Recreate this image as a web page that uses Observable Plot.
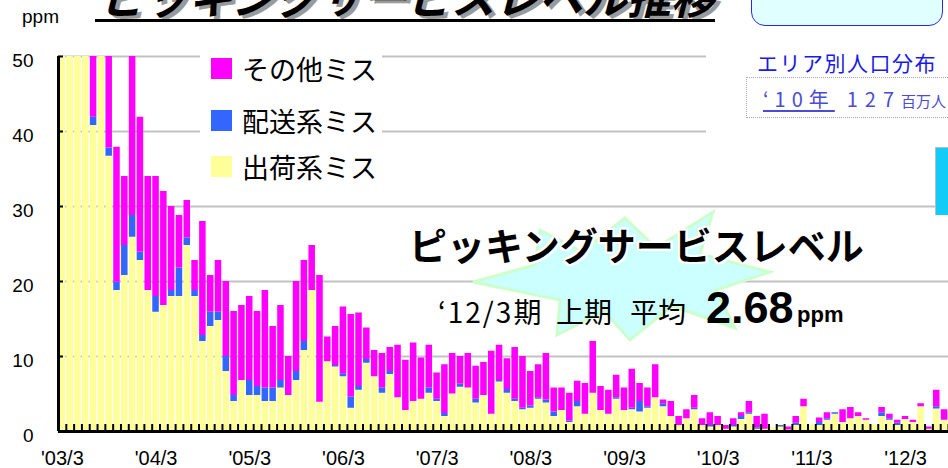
<!DOCTYPE html>
<html><head><meta charset="utf-8">
<script src="https://cdn.jsdelivr.net/npm/d3@7"></script>
<script src="https://cdn.jsdelivr.net/npm/@observablehq/plot@0.6"></script>
<style>
body{margin:0;background:#fff;}
#wrap{position:relative;width:948px;height:468px;overflow:hidden;font-family:"Liberation Sans",Arial,sans-serif;}
#chart{position:absolute;left:0;top:0;}
.abs{position:absolute;white-space:nowrap;}
.jp{font-family:"Noto Sans CJK JP","Noto Sans",sans-serif;}
</style></head><body>
<div id="wrap">
  <div id="chart"></div>

  <!-- title (cut off at top) -->
  <div class="abs jp" style="left:100px;top:-27px;font-size:44px;line-height:44px;font-weight:700;font-style:italic;color:#000;text-shadow:4px 3px 0 #9a9a9a;">ピッキングサービスレベル推移</div>
  <div class="abs" style="left:95px;top:19px;width:620px;height:3px;background:#000;"></div>

  <div class="abs" style="left:22px;top:7px;font-size:19px;line-height:19px;color:#000;">ppm</div>

  <!-- legend -->
  <div class="abs" style="left:200px;top:44px;width:182px;height:150px;background:#fff;"></div>
  <div class="abs" id="legend" style="left:211px;top:50px;"></div>

  <!-- right panel -->
  <div class="abs" style="left:706px;top:30px;width:242px;height:112px;background:#fff;"></div>
  <div class="abs" style="left:751px;top:-20px;width:190px;height:44px;background:#e0ffff;border:1.5px solid #2a2aee;border-radius:14px;"></div>
  <div class="abs jp" style="left:757px;top:52px;font-size:21px;line-height:21px;letter-spacing:1.5px;color:#1a1ae6;">エリア別人口分布</div>
  <div class="abs" style="left:746px;top:77px;width:220px;height:39px;border:1.5px dotted #aaaaaa;"></div>
  <div class="abs jp" style="left:763px;top:89px;font-size:20px;line-height:20px;color:#4b4bd6;"><span style="letter-spacing:6px;text-decoration:underline;text-underline-offset:3px;">‘10年</span><span style="letter-spacing:7px;margin-left:12px;">127</span><span style="font-size:15px;">百万人</span></div>
  <div class="abs" style="left:935px;top:147px;width:20px;height:67px;background:#11ccf6;border-left:1.5px solid #bcbcbc;border-top:1.5px solid #bcbcbc;"></div>

  <!-- starburst annotation -->
  <svg class="abs" style="left:0;top:0;" width="948" height="468">
    <polygon points="473,282 535,265 540,230 582,252 625,218 656,248 713,212 700,254 770,272 716,290 735,328 672,306 630,340 604,311 557,335 560,300"
      fill="#ccffff" stroke="#ccffcc" stroke-width="3" stroke-linejoin="miter"/>
  </svg>
  <div class="abs jp" style="left:409px;top:225px;font-size:38px;line-height:38px;font-weight:700;color:#000;text-shadow:2px 0 0 #fff,-2px 0 0 #fff,0 2px 0 #fff,0 -2px 0 #fff,2px 2px 0 #fff,-2px -2px 0 #fff,2px -2px 0 #fff,-2px 2px 0 #fff;">ピッキングサービスレベル</div>
  <div class="abs jp" style="left:438px;top:297px;font-size:28px;line-height:28px;letter-spacing:2px;color:#000;">‘12/3期</div>
  <div class="abs jp" style="left:556px;top:297px;font-size:28px;line-height:28px;color:#000;">上期</div>
  <div class="abs jp" style="left:630px;top:297px;font-size:28px;line-height:28px;color:#000;">平均</div>
  <div class="abs" style="left:706px;top:285px;font-size:45px;line-height:45px;font-weight:700;color:#000;">2.68</div>
  <div class="abs" style="left:797px;top:304px;font-size:22px;line-height:22px;font-weight:700;color:#000;">ppm</div>
</div>
<script>
// Monthly categories: 2003/3 .. 2012/8
const startYear = 2003, startMonth = 3, nMonths = 114;
const months = [];
for (let k = 0; k < nMonths; k++) {
  const m0 = startMonth - 1 + k;
  months.push(`${startYear + Math.floor(m0 / 12)}/${(m0 % 12) + 1}`);
}
// March tick labels
const tickLabels = ["'03/3","'04/3","'05/3","'06/3","'07/3","'08/3","'09/3","'10/3","'11/3","'12/3"];
const tickMonths = ["2003/3","2004/3","2005/3","2006/3","2007/3","2008/3","2009/3","2010/3","2011/3","2012/3"];

const seriesNames = ["出荷系ミス","配送系ミス","その他ミス"];
const seriesColors = ["#ffff99","#3366ff","#ff00ff"];

// 出荷系ミス (ppm)
const shukka = [55,55,55,55,40.8,55,36.7,18.8,20.8,25.9,
  22.8,18.8,15.9,16.8,18.0,18.0,24.8,18.0,12.0,14.0,
  14.8,8.0,4.0,6.8,4.8,4.8,4.0,4.0,5.8,4.8,
  6.8,10.8,18.8,3.9,9.3,8.6,7.3,3.1,5.5,9.1,
  7.3,5.1,7.6,4.5,2.8,4.0,4.3,5.1,4.0,2.0,
  5.0,5.9,5.8,3.8,4.8,2.3,6.6,5.1,4.0,2.9,
  3.1,4.3,3.8,2.0,2.8,1.2,3.3,2.3,5.1,2.8,
  2.3,4.3,2.8,2.9,2.6,3.1,4.5,3.3,2.0,0.8,
  1.7,2.9,0.8,0.6,0.8,0.3,0.6,1.6,2.3,0.3,
  0.3,0.5,0.6,0.2,0.8,3.3,0.9,0.8,1.5,2.3,
  1.2,1.7,2.0,1.5,0.9,2.0,1.5,0.8,1.6,1.2,
  3.3,0.3,3.0,1.5];
// 配送系ミス (ppm)
const haiso = [0,0,0,0,1.1,0,1.1,1.1,4.0,2.9,
  1.1,0,2.1,0,0.8,3.8,1.0,0.8,0.8,1.9,
  1.1,2.0,0.8,0,2.0,1.2,1.8,1.8,1.0,0,
  1.2,1.2,0,0,0,0.2,0.4,1.5,0.5,0.5,
  0,0.7,0.4,0,0,0,0,0.7,0.3,0.4,
  0,0.4,0,0.5,0,0,0.2,0.5,0.3,0.2,
  0.3,0.2,0.4,0.6,0,0.2,0.7,0,0,0,
  0,0.2,0,0.2,1.4,0.2,0,0.4,0,0,
  0,0.2,0,0.2,0,0,0.2,0.4,0.2,0.2,
  0,0,0.2,0,0.3,0,0,0.4,0.2,0.2,
  0,0,0,0,0,0.5,0.2,0.3,0,0,
  0,0,0.3,0];
// その他ミス (ppm)
const sonota = [0,0,0,0,13,0,17,18.0,9.2,26,
  18.0,15.2,16.0,15.2,11.2,7.0,5.0,4.0,15.2,4.9,
  6.9,10.0,11.2,10.0,11.2,10.0,13.0,8.2,10.0,5.2,
  12.0,10.8,6.0,16.9,3.3,5.2,8.9,11.0,9.8,4.2,
  3.5,4.6,3.2,7.0,6.7,7.8,5.5,5.7,3.5,6.5,
  5.4,3.7,4.6,4.4,4.4,8.4,4.7,4.1,6.9,6.9,
  4.6,4.4,6.2,3.2,3.0,3.7,2.7,4.1,6.9,3.2,
  3.2,3.0,3.0,5.2,2.4,2.5,4.4,0.5,2.0,1.2,
  1.2,1.7,0.9,1.7,1.2,0.5,0.9,0.5,1.5,1.5,
  2.0,0,0,0.4,0.9,1.0,0,0.6,0.8,0,
  1.7,1.5,0.5,0.2,0,0.7,0.6,0.4,0.4,0.3,
  0.4,0.3,2.2,1.4];

const seriesValues = [shukka, haiso, sonota];
const data = [];
seriesNames.forEach((name, s) => {
  seriesValues[s].forEach((v, i) => data.push({i, i2: i + 1, month: months[i], name, v}));
});
const tickIdx = tickMonths.map(m => months.indexOf(m));

const chart = Plot.plot({
  width: 948, height: 468,
  marginLeft: 58, marginRight: 0, marginTop: 56, marginBottom: 37,
  x: {type: "linear", domain: [0, nMonths], axis: null},
  y: {domain: [0, 50], axis: null},
  color: {domain: seriesNames, range: seriesColors},
  style: {fontFamily: '"Liberation Sans", Arial, sans-serif', background: "transparent", color: "#000"},
  marks: [
    Plot.gridY([10, 20, 30, 40, 50], {stroke: "#c2c2c2", strokeOpacity: 1, strokeWidth: 2}),
    Plot.rectY(data, {x1: "i", x2: "i2", y: "v", fill: "name", insetLeft: 0.6, insetRight: 0.7, clip: true}),
    Plot.axisX({ticks: d3.range(0, nMonths + 1), tickSize: -7, strokeWidth: 2, tickFormat: () => "", label: null}),
    Plot.axisX({ticks: tickIdx.map(i => i + 0.5), tickSize: 0, tickPadding: 19, fontSize: 20, label: null,
      tickFormat: d => tickLabels[tickIdx.indexOf(Math.round(d - 0.5))]}),
    Plot.axisY({ticks: [0, 10, 20, 30, 40, 50], tickSize: -5, strokeWidth: 2, tickFormat: () => "", label: null}),
    Plot.axisY({ticks: [0, 10, 20, 30, 40, 50], tickSize: 0, tickPadding: 25, fontSize: 19, dy: 4, label: null}),
    Plot.ruleX([0], {stroke: "#000", strokeWidth: 3}),
    Plot.ruleY([0], {stroke: "#000", strokeWidth: 3})
  ]
});
document.getElementById("chart").appendChild(chart);
chart.querySelectorAll("[aria-label='x-axis tick-label'] text").forEach(t => t.setAttribute("letter-spacing", "2"));

// legend
const legendOrder = ["その他ミス","配送系ミス","出荷系ミス"];
const leg = document.getElementById("legend");
legendOrder.forEach((name, k) => {
  const row = document.createElement("div");
  row.className = "jp";
  row.style.cssText = `position:absolute;left:0;top:${[0, 52, 98][k]}px;display:flex;align-items:center;height:36px;font-size:27px;line-height:27px;white-space:nowrap;color:#000;`;
  const sw = document.createElement("span");
  sw.style.cssText = `display:inline-block;width:21px;height:21px;margin-right:10px;background:${seriesColors[seriesNames.indexOf(name)]};`;
  row.appendChild(sw);
  row.appendChild(document.createTextNode(name));
  leg.appendChild(row);
});
</script>
</body></html>
